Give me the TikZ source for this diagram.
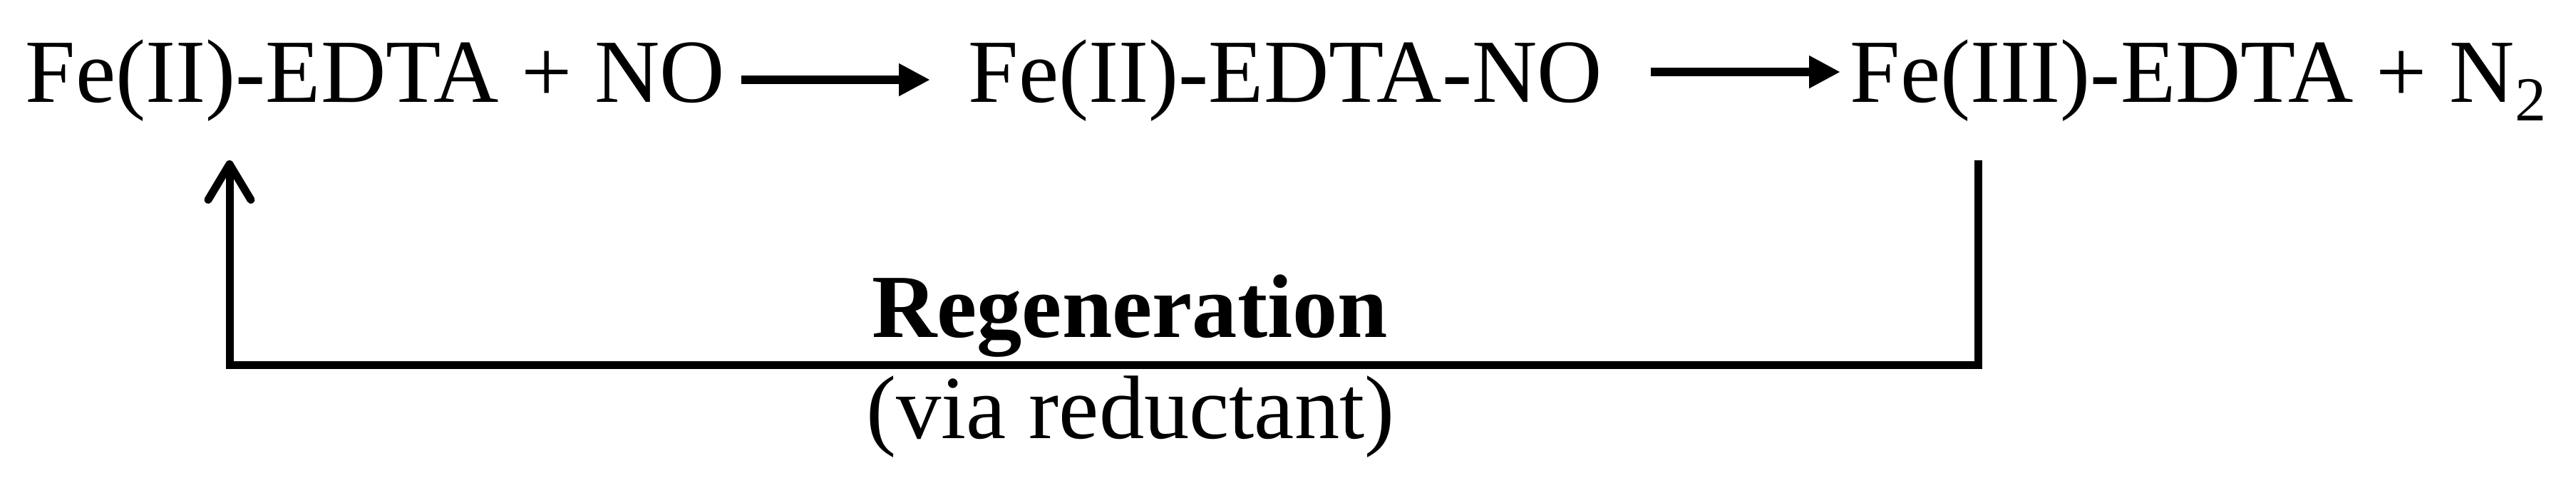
\documentclass[tikz,border=0pt]{standalone}
\usepackage{fontspec}
\setmainfont{Liberation Serif}
\usetikzlibrary{arrows.meta}

\begin{document}
\begin{tikzpicture}[>=Triangle,
		chem/.style={anchor=base west, inner sep=0pt, font=\fontsize{36}{43}\selectfont},
		note/.style={anchor=base, inner sep=0pt, font=\fontsize{36}{43}\selectfont},
		fwd/.style={-{Triangle[length=0.44cm, width=0.43cm]}, line width=0.12cm},
		regen/.style={-{Straight Barb[length=0.5cm, width=0.6cm, round]}, line width=0.11cm}]
		\useasboundingbox (0,0) rectangle (36.14,6.77);
		\node[chem] (fe2) at (0.35,5.34) {Fe(II)-EDTA + NO};
		\node[chem] (fe2no) at (13.58,5.34) {Fe(II)-EDTA-NO};
		\node[chem] (fe3) at (25.95,5.34) {Fe(III)-EDTA + N\raisebox{-0.21em}{\fontsize{25}{25}\selectfont 2}};
		\draw[fwd, shorten <=0.22cm, shorten >=0.53cm] ([yshift=0.31cm]fe2.base east) -- ([yshift=0.31cm]fe2no.base west);
		\draw[fwd, shorten <=0.67cm, shorten >=0.13cm] ([yshift=0.42cm]fe2no.base east) -- ([yshift=0.42cm]fe2no.base east -| fe3.west);
		% regeneration loop
		\draw[regen] ([xshift=1.8cm, yshift=-0.82cm]fe3.base west) -- ++(0,-2.87) -| ([xshift=2.87cm, yshift=-0.82cm]fe2.base west);
		\node[note, font=\bfseries\fontsize{36}{43}\selectfont] (regentxt) at (15.85,2.04) {Regeneration};
		\node[note] (viatxt) at (15.86,0.62) {(via reductant)};
	\end{tikzpicture}
\end{document}
